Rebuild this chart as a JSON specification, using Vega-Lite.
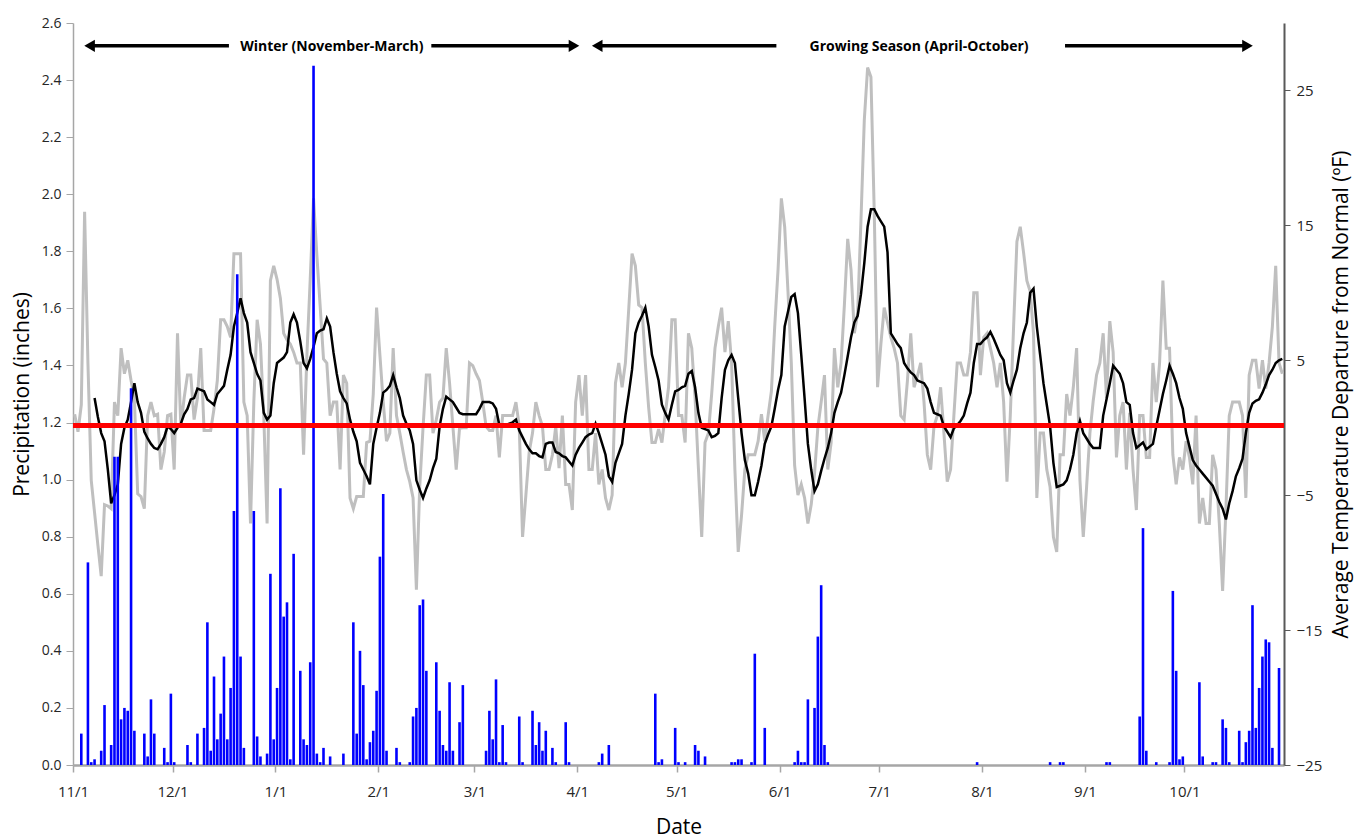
{
"$schema": "https://vega.github.io/schema/vega-lite/v6.json",
"width": 1211,
"height": 742,
"autosize": {"type": "none"},
"padding": {"left": 73, "top": 23, "right": 70, "bottom": 73},
"background": "white",
"config": {
  "view": {"stroke": null},
  "font": "Open Sans",
  "axis": {"titleFontWeight": "normal", "titleColor": "#000000", "labelColor": "#262626", "domainColor": "#A6A6A6", "tickColor": "#A6A6A6", "titleFontSize": 21},
  "axisBottom": {"labelFontSize": 15, "tickSize": 7, "domainWidth": 2.5, "tickWidth": 1.5, "labelPadding": 12, "titlePadding": 17, "grid": false, "labelFlush": false, "labelOverlap": false},
  "axisLeft": {"labelFontSize": 14, "tickSize": 7, "domainWidth": 1.5, "labelPadding": 5, "titlePadding": 9, "grid": true, "gridColor": "#D9D9D9", "gridWidth": 1.5},
  "axisRight": {"labelFontSize": 15, "tickSize": 6, "domainWidth": 2, "domainColor": "#595959", "tickColor": "#595959", "labelPadding": 6, "titlePadding": 9, "grid": false}
},
"datasets": {
"daily": [
{"date":"2011-11-01","temp":1.0},
{"date":"2011-11-02","temp":-0.3},
{"date":"2011-11-03","temp":1.7,"precip":0.11},
{"date":"2011-11-04","temp":16},
{"date":"2011-11-05","temp":4.8,"precip":0.71},
{"date":"2011-11-06","temp":-3.9,"precip":0.01},
{"date":"2011-11-07","temp":-6.3,"precip":0.02,"avg":2.2},
{"date":"2011-11-08","temp":-8.7,"avg":0.8},
{"date":"2011-11-09","temp":-11,"precip":0.05,"avg":-0.4},
{"date":"2011-11-10","temp":-5.7,"precip":0.21,"avg":-1},
{"date":"2011-11-11","temp":-5.8,"avg":-3.1},
{"date":"2011-11-12","temp":-6,"precip":0.07,"avg":-5.6},
{"date":"2011-11-13","temp":1.9,"precip":1.08,"avg":-5},
{"date":"2011-11-14","temp":0.9,"precip":1.08,"avg":-4.2},
{"date":"2011-11-15","temp":5.9,"precip":0.16,"avg":-1.2},
{"date":"2011-11-16","temp":4,"precip":0.2,"avg":0},
{"date":"2011-11-17","temp":5,"precip":0.19,"avg":0.6},
{"date":"2011-11-18","temp":3.5,"precip":1.32,"avg":1.9},
{"date":"2011-11-19","temp":2.2,"precip":0.12,"avg":3.3},
{"date":"2011-11-20","temp":-4.9,"avg":1.9},
{"date":"2011-11-21","temp":-5.1,"avg":1.1},
{"date":"2011-11-22","temp":-6,"precip":0.11,"avg":-0.3},
{"date":"2011-11-23","temp":0.9,"precip":0.03,"avg":-0.8},
{"date":"2011-11-24","temp":1.9,"precip":0.23,"avg":-1.2},
{"date":"2011-11-25","temp":0.9,"precip":0.11,"avg":-1.5},
{"date":"2011-11-26","temp":1,"avg":-1.6},
{"date":"2011-11-27","temp":-3.1,"avg":-1.2},
{"date":"2011-11-28","temp":-1.8,"precip":0.06,"avg":-0.7},
{"date":"2011-11-29","temp":0.9,"precip":0.01,"avg":0.1},
{"date":"2011-11-30","temp":1,"precip":0.25,"avg":-0.1},
{"date":"2011-12-01","temp":-3.1,"precip":0.01,"avg":-0.4},
{"date":"2011-12-02","temp":7,"avg":0},
{"date":"2011-12-03","temp":0.1,"avg":0.3},
{"date":"2011-12-04","temp":2.2,"avg":1},
{"date":"2011-12-05","temp":3.9,"precip":0.07,"avg":1.4},
{"date":"2011-12-06","temp":3.9,"precip":0.01,"avg":2.1},
{"date":"2011-12-07","temp":0.6,"avg":2.2},
{"date":"2011-12-08","temp":2.2,"precip":0.11,"avg":2.9},
{"date":"2011-12-09","temp":5.9,"avg":2.8},
{"date":"2011-12-10","temp":-0.2,"precip":0.13,"avg":2.7},
{"date":"2011-12-11","temp":-0.2,"precip":0.5,"avg":2.1},
{"date":"2011-12-12","temp":-0.2,"precip":0.05,"avg":1.9},
{"date":"2011-12-13","temp":1.4,"precip":0.31,"avg":1.7},
{"date":"2011-12-14","temp":3.5,"precip":0.09,"avg":2.5},
{"date":"2011-12-15","temp":8,"precip":0.18,"avg":2.8},
{"date":"2011-12-16","temp":8,"precip":0.38,"avg":3.1},
{"date":"2011-12-17","temp":7.5,"precip":0.09,"avg":4.3},
{"date":"2011-12-18","temp":6.7,"precip":0.27,"avg":5.4},
{"date":"2011-12-19","temp":12.9,"precip":0.89,"avg":7.5},
{"date":"2011-12-20","temp":12.9,"precip":1.72,"avg":8.5},
{"date":"2011-12-21","temp":12.9,"precip":0.38,"avg":9.6},
{"date":"2011-12-22","temp":1.9,"precip":0.06,"avg":8.5},
{"date":"2011-12-23","temp":0.9,"avg":7.8},
{"date":"2011-12-24","temp":-7.1,"avg":5.6},
{"date":"2011-12-25","temp":1.9,"precip":0.89,"avg":4.8},
{"date":"2011-12-26","temp":8,"precip":0.1,"avg":4},
{"date":"2011-12-27","temp":6.2,"precip":0.03,"avg":3.5},
{"date":"2011-12-28","temp":0.9,"avg":1.1},
{"date":"2011-12-29","temp":-7.1,"precip":0.04,"avg":0.6},
{"date":"2011-12-30","temp":10.9,"precip":0.67,"avg":0.9},
{"date":"2011-12-31","temp":12,"precip":0.09,"avg":3.3},
{"date":"2012-01-01","temp":11,"precip":0.27,"avg":4.8},
{"date":"2012-01-02","temp":9.6,"precip":0.97,"avg":5},
{"date":"2012-01-03","temp":7,"precip":0.52,"avg":5.2},
{"date":"2012-01-04","temp":6.5,"precip":0.57,"avg":5.6},
{"date":"2012-01-05","temp":6.2,"precip":0.02,"avg":7.8},
{"date":"2012-01-06","temp":5.6,"precip":0.74,"avg":8.4},
{"date":"2012-01-07","temp":4.8,"avg":7.8},
{"date":"2012-01-08","temp":4.8,"precip":0.33,"avg":6.4},
{"date":"2012-01-09","temp":-2,"precip":0.09,"avg":4.8},
{"date":"2012-01-10","temp":5.4,"precip":0.07,"avg":4.4},
{"date":"2012-01-11","temp":11,"precip":0.36,"avg":5.1},
{"date":"2012-01-12","temp":17,"precip":2.45,"avg":6},
{"date":"2012-01-13","temp":12.8,"precip":0.04,"avg":7},
{"date":"2012-01-14","temp":9,"precip":0.01,"avg":7.2},
{"date":"2012-01-15","temp":5.1,"precip":0.06,"avg":7.3},
{"date":"2012-01-16","temp":4.8,"avg":8.1},
{"date":"2012-01-17","temp":0.9,"precip":0.03,"avg":7.5},
{"date":"2012-01-18","temp":1.9,"avg":5.6},
{"date":"2012-01-19","temp":1.9,"avg":4},
{"date":"2012-01-20","temp":-3.1,"avg":2.7},
{"date":"2012-01-21","temp":3.9,"precip":0.04,"avg":2.2},
{"date":"2012-01-22","temp":3.3,"avg":1.8},
{"date":"2012-01-23","temp":-5.2,"avg":0.6},
{"date":"2012-01-24","temp":-6,"precip":0.5,"avg":-0.3},
{"date":"2012-01-25","temp":-5.1,"precip":0.11,"avg":-1},
{"date":"2012-01-26","temp":-5.1,"precip":0.4,"avg":-2.6},
{"date":"2012-01-27","temp":-5.1,"precip":0.28,"avg":-3.1},
{"date":"2012-01-28","temp":-1.1,"precip":0.02,"avg":-3.6},
{"date":"2012-01-29","temp":-1,"precip":0.08,"avg":-4.2},
{"date":"2012-01-30","temp":2.5,"precip":0.12,"avg":-1.2},
{"date":"2012-01-31","temp":8.9,"precip":0.26,"avg":0},
{"date":"2012-02-01","temp":5.4,"precip":0.73,"avg":1.1},
{"date":"2012-02-02","temp":1.9,"precip":0.95,"avg":2.6},
{"date":"2012-02-03","temp":-1,"precip":0.05,"avg":2.8},
{"date":"2012-02-04","temp":-0.4,"avg":3.1},
{"date":"2012-02-05","temp":5.9,"avg":3.9},
{"date":"2012-02-06","temp":0.9,"precip":0.06,"avg":3},
{"date":"2012-02-07","temp":-0.4,"precip":0.01,"avg":2.2},
{"date":"2012-02-08","temp":-1.8,"avg":0.9},
{"date":"2012-02-09","temp":-3.1,"avg":0.3},
{"date":"2012-02-10","temp":-4,"precip":0.01,"avg":-0.2},
{"date":"2012-02-11","temp":-5.2,"precip":0.17,"avg":-1.2},
{"date":"2012-02-12","temp":-12,"precip":0.2,"avg":-3.9},
{"date":"2012-02-13","temp":-4.4,"precip":0.56,"avg":-4.6},
{"date":"2012-02-14","temp":0,"precip":0.58,"avg":-5.2},
{"date":"2012-02-15","temp":3.9,"precip":0.33,"avg":-4.5},
{"date":"2012-02-16","temp":3.9,"avg":-3.9},
{"date":"2012-02-17","temp":-0.4,"avg":-3},
{"date":"2012-02-18","temp":0.6,"precip":0.36,"avg":-2.3},
{"date":"2012-02-19","temp":1.9,"precip":0.19,"avg":0.1},
{"date":"2012-02-20","temp":2.2,"precip":0.07,"avg":1.4},
{"date":"2012-02-21","temp":5.9,"precip":0.05,"avg":2.3},
{"date":"2012-02-22","temp":3.3,"precip":0.29,"avg":2.1},
{"date":"2012-02-23","temp":0.1,"precip":0.05,"avg":1.9},
{"date":"2012-02-24","temp":-3.1,"avg":1.5},
{"date":"2012-02-25","temp":-0.05,"precip":0.15,"avg":1.1},
{"date":"2012-02-26","temp":0,"precip":0.28,"avg":1},
{"date":"2012-02-27","temp":0,"avg":1},
{"date":"2012-02-28","temp":4.8,"avg":1},
{"date":"2012-02-29","temp":4.6,"avg":1},
{"date":"2012-03-01","temp":4,"avg":1},
{"date":"2012-03-02","temp":3.5,"avg":1.4},
{"date":"2012-03-03","temp":1.9,"avg":1.9},
{"date":"2012-03-04","temp":0.1,"precip":0.05,"avg":1.9},
{"date":"2012-03-05","temp":-0.2,"precip":0.19,"avg":1.9},
{"date":"2012-03-06","temp":-0.2,"precip":0.09,"avg":1.8},
{"date":"2012-03-07","temp":0.9,"precip":0.3,"avg":1.4},
{"date":"2012-03-08","temp":-2.2,"precip":0.01,"avg":0.2},
{"date":"2012-03-09","temp":0.9,"precip":0.14,"avg":0.2},
{"date":"2012-03-10","temp":0.9,"precip":0.01,"avg":0.2},
{"date":"2012-03-11","temp":0.9,"avg":0.3},
{"date":"2012-03-12","temp":0.9,"avg":0.4},
{"date":"2012-03-13","temp":1.9,"avg":0.6},
{"date":"2012-03-14","temp":0.1,"precip":0.17,"avg":-0.2},
{"date":"2012-03-15","temp":-8.1,"precip":0.01,"avg":-0.7},
{"date":"2012-03-16","temp":-5,"avg":-1.2},
{"date":"2012-03-17","temp":-1.8,"avg":-1.6},
{"date":"2012-03-18","temp":-0.4,"precip":0.19,"avg":-1.9},
{"date":"2012-03-19","temp":1.9,"precip":0.07,"avg":-1.9},
{"date":"2012-03-20","temp":0.9,"precip":0.15,"avg":-2.1},
{"date":"2012-03-21","temp":0.1,"precip":0.05,"avg":-2.2},
{"date":"2012-03-22","temp":-3.1,"precip":0.12,"avg":-1.2},
{"date":"2012-03-23","temp":-3.1,"avg":-1.1},
{"date":"2012-03-24","temp":-2,"precip":0.06,"avg":-1.1},
{"date":"2012-03-25","temp":0.1,"precip":0.01,"avg":-1.8},
{"date":"2012-03-26","temp":-3,"avg":-1.9},
{"date":"2012-03-27","temp":0.9,"avg":-2.1},
{"date":"2012-03-28","temp":-4.2,"precip":0.15,"avg":-2.2},
{"date":"2012-03-29","temp":-4.2,"precip":0.01,"avg":-2.5},
{"date":"2012-03-30","temp":-6.1,"avg":-2.8},
{"date":"2012-03-31","temp":1.9,"avg":-2},
{"date":"2012-04-01","temp":3.9,"avg":-1.5},
{"date":"2012-04-02","temp":0.9,"avg":-1.1},
{"date":"2012-04-03","temp":3.9,"avg":-0.7},
{"date":"2012-04-04","temp":-3.1,"avg":-0.5},
{"date":"2012-04-05","temp":-3.1,"avg":-0.4},
{"date":"2012-04-06","temp":-0.4,"avg":0.3},
{"date":"2012-04-07","temp":-4.2,"precip":0.01,"avg":-0.4},
{"date":"2012-04-08","temp":-3.1,"precip":0.04,"avg":-1.2},
{"date":"2012-04-09","temp":-5.2,"avg":-2},
{"date":"2012-04-10","temp":-6.1,"precip":0.07,"avg":-3.6},
{"date":"2012-04-11","temp":-5,"avg":-4},
{"date":"2012-04-12","temp":3.3,"avg":-2.6},
{"date":"2012-04-13","temp":4.8,"avg":-1.9},
{"date":"2012-04-14","temp":3,"avg":-1.2},
{"date":"2012-04-15","temp":4.8,"avg":0.9},
{"date":"2012-04-16","temp":8.8,"avg":2.5},
{"date":"2012-04-17","temp":12.9,"avg":4.3},
{"date":"2012-04-18","temp":12,"avg":7},
{"date":"2012-04-19","temp":9.1,"avg":7.8},
{"date":"2012-04-20","temp":8.9,"avg":8.3},
{"date":"2012-04-21","temp":4.8,"avg":8.9},
{"date":"2012-04-22","temp":1.5,"avg":7.5},
{"date":"2012-04-23","temp":-1.1,"avg":5.4},
{"date":"2012-04-24","temp":-1.1,"precip":0.25,"avg":4.5},
{"date":"2012-04-25","temp":-0.1,"precip":0.01,"avg":3.5},
{"date":"2012-04-26","temp":-1.1,"precip":0.02,"avg":1.7},
{"date":"2012-04-27","temp":1,"avg":1.1},
{"date":"2012-04-28","temp":3,"avg":0.6},
{"date":"2012-04-29","temp":8,"avg":1.7},
{"date":"2012-04-30","temp":8,"precip":0.13,"avg":2.7},
{"date":"2012-05-01","temp":0.9,"precip":0.01,"avg":2.8},
{"date":"2012-05-02","temp":0.9,"avg":3},
{"date":"2012-05-03","temp":-1.1,"precip":0.01,"avg":3.1},
{"date":"2012-05-04","temp":7,"avg":4},
{"date":"2012-05-05","temp":5.9,"avg":4.2},
{"date":"2012-05-06","temp":2.2,"precip":0.07,"avg":3},
{"date":"2012-05-07","temp":-3,"precip":0.05,"avg":1.1},
{"date":"2012-05-08","temp":-8.1,"avg":0},
{"date":"2012-05-09","temp":-1.1,"precip":0.03,"avg":-0.1},
{"date":"2012-05-10","temp":-0.4,"avg":-0.2},
{"date":"2012-05-11","temp":2.5,"avg":-0.7},
{"date":"2012-05-12","temp":5.9,"avg":-0.6},
{"date":"2012-05-13","temp":7.5,"avg":-0.4},
{"date":"2012-05-14","temp":8.9,"avg":2.2},
{"date":"2012-05-15","temp":5.6,"avg":4.3},
{"date":"2012-05-16","temp":7.9,"avg":5},
{"date":"2012-05-17","temp":4.8,"precip":0.01,"avg":5.4},
{"date":"2012-05-18","temp":-3.1,"precip":0.01,"avg":4.8},
{"date":"2012-05-19","temp":-9.2,"precip":0.02,"avg":2.2},
{"date":"2012-05-20","temp":-6.5,"precip":0.02,"avg":-0.4},
{"date":"2012-05-21","temp":-3.1,"avg":-2.4},
{"date":"2012-05-22","temp":-2,"avg":-3.4},
{"date":"2012-05-23","temp":-2,"precip":0.01,"avg":-5},
{"date":"2012-05-24","temp":-2,"precip":0.39,"avg":-5},
{"date":"2012-05-25","temp":-1,"avg":-4},
{"date":"2012-05-26","temp":1,"avg":-2.8},
{"date":"2012-05-27","temp":-1,"precip":0.13,"avg":-1.2},
{"date":"2012-05-28","temp":0.9,"avg":-0.5},
{"date":"2012-05-29","temp":2.7,"avg":0.1},
{"date":"2012-05-30","temp":7.5,"avg":1.4},
{"date":"2012-05-31","temp":11.7,"avg":2.8},
{"date":"2012-06-01","temp":17,"avg":3.9},
{"date":"2012-06-02","temp":14.9,"avg":7.5},
{"date":"2012-06-03","temp":10.1,"avg":8.6},
{"date":"2012-06-04","temp":4.8,"avg":9.7},
{"date":"2012-06-05","temp":-2.8,"precip":0.01,"avg":9.9},
{"date":"2012-06-06","temp":-5,"precip":0.05,"avg":8.5},
{"date":"2012-06-07","temp":-4.2,"precip":0.01,"avg":5.4},
{"date":"2012-06-08","temp":-5.2,"precip":0.01,"avg":2.2},
{"date":"2012-06-09","temp":-7.1,"precip":0.23,"avg":-1.2},
{"date":"2012-06-10","temp":-5.7,"avg":-3.1},
{"date":"2012-06-11","temp":-3.4,"precip":0.2,"avg":-4.7},
{"date":"2012-06-12","temp":0,"precip":0.45,"avg":-4.2},
{"date":"2012-06-13","temp":1.9,"precip":0.63,"avg":-3.2},
{"date":"2012-06-14","temp":3.9,"precip":0.07,"avg":-2.3},
{"date":"2012-06-15","temp":-3.1,"precip":0.01,"avg":-1.5},
{"date":"2012-06-16","temp":-1.1,"avg":-0.4},
{"date":"2012-06-17","temp":5.9,"avg":1.1},
{"date":"2012-06-18","temp":3,"avg":1.9},
{"date":"2012-06-19","temp":4.8,"avg":2.6},
{"date":"2012-06-20","temp":9.1,"avg":3.9},
{"date":"2012-06-21","temp":14,"avg":5.3},
{"date":"2012-06-22","temp":11.7,"avg":6.7},
{"date":"2012-06-23","temp":7,"avg":7.8},
{"date":"2012-06-24","temp":8.5,"avg":8.3},
{"date":"2012-06-25","temp":15.4,"avg":9.9},
{"date":"2012-06-26","temp":22.8,"avg":12.2},
{"date":"2012-06-27","temp":26.7,"avg":14.9},
{"date":"2012-06-28","temp":26,"avg":16.2},
{"date":"2012-06-29","temp":16,"avg":16.2},
{"date":"2012-06-30","temp":3,"avg":15.7},
{"date":"2012-07-01","temp":6.2,"avg":15.3},
{"date":"2012-07-02","temp":8.9,"avg":14.9},
{"date":"2012-07-03","temp":7.8,"avg":13},
{"date":"2012-07-04","temp":6.7,"avg":7},
{"date":"2012-07-05","temp":5.9,"avg":6.6},
{"date":"2012-07-06","temp":4.8,"avg":6.2},
{"date":"2012-07-07","temp":0.9,"avg":5.9},
{"date":"2012-07-08","temp":0.6,"avg":4.8},
{"date":"2012-07-09","temp":3.5,"avg":4.4},
{"date":"2012-07-10","temp":7,"avg":4.1},
{"date":"2012-07-11","temp":3,"avg":3.9},
{"date":"2012-07-12","temp":3.8,"avg":3.5},
{"date":"2012-07-13","temp":4.8,"avg":3.4},
{"date":"2012-07-14","temp":1.9,"avg":3.3},
{"date":"2012-07-15","temp":-2,"avg":2.9},
{"date":"2012-07-16","temp":-3.1,"avg":1.9},
{"date":"2012-07-17","temp":0.1,"avg":1.1},
{"date":"2012-07-18","temp":0.9,"avg":1},
{"date":"2012-07-19","temp":3,"avg":0.9},
{"date":"2012-07-20","temp":-0.4,"avg":0.1},
{"date":"2012-07-21","temp":-4,"avg":-0.3},
{"date":"2012-07-22","temp":-3.1,"avg":-0.7},
{"date":"2012-07-23","temp":0.9,"avg":-0.05},
{"date":"2012-07-24","temp":4.8,"avg":0.2},
{"date":"2012-07-25","temp":4.8,"avg":0.5},
{"date":"2012-07-26","temp":3.9,"avg":0.9},
{"date":"2012-07-27","temp":3.9,"avg":1.8},
{"date":"2012-07-28","temp":5.6,"avg":2.6},
{"date":"2012-07-29","temp":10,"avg":4.8},
{"date":"2012-07-30","temp":10,"precip":0.01,"avg":6.2},
{"date":"2012-07-31","temp":3.9,"avg":6.2},
{"date":"2012-08-01","temp":6.7,"avg":6.5},
{"date":"2012-08-02","temp":7,"avg":6.7},
{"date":"2012-08-03","temp":5.9,"avg":7.1},
{"date":"2012-08-04","temp":4.8,"avg":6.6},
{"date":"2012-08-05","temp":3,"avg":6},
{"date":"2012-08-06","temp":4.8,"avg":5.4},
{"date":"2012-08-07","temp":1.9,"avg":5},
{"date":"2012-08-08","temp":-4,"avg":3.3},
{"date":"2012-08-09","temp":0.9,"avg":2.6},
{"date":"2012-08-10","temp":7.5,"avg":3.5},
{"date":"2012-08-11","temp":13.8,"avg":4.3},
{"date":"2012-08-12","temp":14.9,"avg":5.9},
{"date":"2012-08-13","temp":13,"avg":7},
{"date":"2012-08-14","temp":10.9,"avg":7.8},
{"date":"2012-08-15","temp":10.1,"avg":10},
{"date":"2012-08-16","temp":7,"avg":10.3},
{"date":"2012-08-17","temp":-5.2,"avg":7.5},
{"date":"2012-08-18","temp":-0.4,"avg":5.4},
{"date":"2012-08-19","temp":-0.4,"avg":3.3},
{"date":"2012-08-20","temp":-3.1,"avg":1.7},
{"date":"2012-08-21","temp":-4.4,"precip":0.01,"avg":0.1},
{"date":"2012-08-22","temp":-8.1,"avg":-2.6},
{"date":"2012-08-23","temp":-9.2,"avg":-4.4},
{"date":"2012-08-24","temp":-2,"precip":0.01,"avg":-4.3},
{"date":"2012-08-25","temp":-2,"precip":0.01,"avg":-4.2},
{"date":"2012-08-26","temp":2.5,"avg":-3.9},
{"date":"2012-08-27","temp":0.9,"avg":-3.1},
{"date":"2012-08-28","temp":3,"avg":-2},
{"date":"2012-08-29","temp":5.9,"avg":-0.4},
{"date":"2012-08-30","temp":-3.9,"avg":0.5},
{"date":"2012-08-31","temp":-8.1,"avg":-0.4},
{"date":"2012-09-01","temp":-4.4,"avg":-0.8},
{"date":"2012-09-02","temp":-0.4,"avg":-1.2},
{"date":"2012-09-03","temp":2,"avg":-1.5},
{"date":"2012-09-04","temp":3.9,"avg":-1.5},
{"date":"2012-09-05","temp":4.8,"avg":-1.5},
{"date":"2012-09-06","temp":7,"avg":0.9},
{"date":"2012-09-07","temp":2.2,"precip":0.01,"avg":2.1},
{"date":"2012-09-08","temp":7.9,"precip":0.01,"avg":3.3},
{"date":"2012-09-09","temp":5.6,"avg":4.6},
{"date":"2012-09-10","temp":-2.2,"avg":4.3},
{"date":"2012-09-11","temp":0.9,"avg":4},
{"date":"2012-09-12","temp":1.9,"avg":3.3},
{"date":"2012-09-13","temp":-3.1,"avg":1.9},
{"date":"2012-09-14","temp":1.1,"avg":1.7},
{"date":"2012-09-15","temp":-3.1,"avg":-0.4},
{"date":"2012-09-16","temp":-6.1,"avg":-1.5},
{"date":"2012-09-17","temp":0.9,"precip":0.17,"avg":-1.3},
{"date":"2012-09-18","temp":0.9,"precip":0.83,"avg":-1.1},
{"date":"2012-09-19","temp":-2.2,"precip":0.05,"avg":-1.6},
{"date":"2012-09-20","temp":-2.2,"avg":-1.4},
{"date":"2012-09-21","temp":4.8,"avg":-1.2},
{"date":"2012-09-22","temp":1.9,"precip":0.01,"avg":0.1},
{"date":"2012-09-23","temp":4.8,"avg":1.3},
{"date":"2012-09-24","temp":10.9,"avg":2.5},
{"date":"2012-09-25","temp":5.9,"avg":3.5},
{"date":"2012-09-26","temp":5.9,"precip":0.01,"avg":4.6},
{"date":"2012-09-27","temp":-2,"precip":0.61,"avg":4},
{"date":"2012-09-28","temp":-4.2,"precip":0.33,"avg":3.3},
{"date":"2012-09-29","temp":-2.2,"precip":0.02,"avg":2.2},
{"date":"2012-09-30","temp":-3.1,"precip":0.03,"avg":1.4},
{"date":"2012-10-01","temp":-1,"avg":-0.4},
{"date":"2012-10-02","temp":-2.2,"avg":-1.4},
{"date":"2012-10-03","temp":-4.2,"avg":-2.4},
{"date":"2012-10-04","temp":0.9,"avg":-2.8},
{"date":"2012-10-05","temp":-7.1,"precip":0.29,"avg":-3.1},
{"date":"2012-10-06","temp":-5.2,"precip":0.03,"avg":-3.4},
{"date":"2012-10-07","temp":-7.1,"avg":-3.7},
{"date":"2012-10-08","temp":-7.1,"avg":-4},
{"date":"2012-10-09","temp":-2,"precip":0.01,"avg":-4.3},
{"date":"2012-10-10","temp":-3.1,"precip":0.01,"avg":-4.9},
{"date":"2012-10-11","temp":-7.1,"avg":-5.5},
{"date":"2012-10-12","temp":-12.1,"precip":0.16,"avg":-6},
{"date":"2012-10-13","temp":-6,"precip":0.13,"avg":-6.8},
{"date":"2012-10-14","temp":0.9,"precip":0.01,"avg":-5.6},
{"date":"2012-10-15","temp":1.9,"avg":-4.7},
{"date":"2012-10-16","temp":1.9,"avg":-3.6},
{"date":"2012-10-17","temp":1.9,"precip":0.12,"avg":-3},
{"date":"2012-10-18","temp":0.9,"precip":0.01,"avg":-2.3},
{"date":"2012-10-19","temp":-5.2,"precip":0.08,"avg":-0.4},
{"date":"2012-10-20","temp":3.9,"precip":0.12,"avg":1.1},
{"date":"2012-10-21","temp":5,"precip":0.56,"avg":1.8},
{"date":"2012-10-22","temp":5,"precip":0.13,"avg":2},
{"date":"2012-10-23","temp":2.9,"precip":0.27,"avg":2.1},
{"date":"2012-10-24","temp":5,"precip":0.38,"avg":2.6},
{"date":"2012-10-25","temp":2.9,"precip":0.44,"avg":3.2},
{"date":"2012-10-26","temp":4.8,"precip":0.43,"avg":3.9},
{"date":"2012-10-27","temp":7.5,"precip":0.06,"avg":4.3},
{"date":"2012-10-28","temp":12,"avg":4.8},
{"date":"2012-10-29","temp":4.8,"precip":0.34,"avg":5},
{"date":"2012-10-30","temp":4,"avg":5.1}
],
"arrows": [
{"date":"2011-11-06","date2":"2011-12-18","y":2.52},
{"date":"2012-02-17","date2":"2012-03-31","y":2.52},
{"date":"2012-04-07","date2":"2012-05-31","y":2.52},
{"date":"2012-08-26","date2":"2012-10-20","y":2.52}
],
"heads": [
{"date":"2011-11-06","y":2.52,"shape":"triangle-left"},
{"date":"2012-03-31","y":2.52,"shape":"triangle-right"},
{"date":"2012-04-07","y":2.52,"shape":"triangle-left"},
{"date":"2012-10-20","y":2.52,"shape":"triangle-right"}
],
"notes": [
{"date":"2012-01-18","y":2.515,"text":"Winter (November-March)"},
{"date":"2012-07-13","y":2.515,"text":"Growing Season (April-October)"}
]
},
"layer": [
{
  "layer": [
    {
      "data": {"name": "daily"},
      "mark": {"type": "line", "color": "#BFBFBF", "strokeWidth": 3, "interpolate": "linear"},
      "encoding": {
        "x": {"field": "date", "type": "temporal", "timeUnit": "utcyearmonthdate", "bandPosition": 0.5, "title": "Date", "scale": {"type": "utc", "domain": [{"year": 2011, "month": 11, "date": 1, "utc": true}, {"year": 2012, "month": 10, "date": 31, "utc": true}]}},
        "y": {"field": "temp", "type": "quantitative", "title": "Average Temperature  Departure from Normal (ºF)", "scale": {"domain": [-25, 30], "nice": false, "zero": false}, "axis": {"orient": "right", "values": [-25, -15, -5, 5, 15, 25], "titleAngle": 270, "titleBaseline": "top"}}
      }
    },
    {
      "data": {"name": "daily"},
      "mark": {"type": "line", "color": "#000000", "strokeWidth": 2.5},
      "encoding": {
        "x": {"field": "date", "type": "temporal", "timeUnit": "utcyearmonthdate", "bandPosition": 0.5, "title": "Date", "scale": {"type": "utc"}},
        "y": {"field": "avg", "type": "quantitative", "title": "Average Temperature  Departure from Normal (ºF)"}
      }
    }
  ]
},
{
  "layer": [
    {
      "data": {"name": "daily"},
      "mark": {"type": "bar", "color": "#0000FF", "width": 2.6},
      "encoding": {
        "x": {"field": "date", "type": "temporal", "timeUnit": "utcyearmonthdate", "bandPosition": 0.5, "title": "Date", "scale": {"type": "utc", "domain": [{"year": 2011, "month": 11, "date": 1, "utc": true}, {"year": 2012, "month": 10, "date": 31, "utc": true}]},
          "axis": {"format": "%-m/%-d", "values": [
            {"year": 2011, "month": 11, "date": 1, "utc": true},
            {"year": 2011, "month": 12, "date": 1, "utc": true},
            {"year": 2012, "month": 1, "date": 1, "utc": true},
            {"year": 2012, "month": 2, "date": 1, "utc": true},
            {"year": 2012, "month": 3, "date": 1, "utc": true},
            {"year": 2012, "month": 4, "date": 1, "utc": true},
            {"year": 2012, "month": 5, "date": 1, "utc": true},
            {"year": 2012, "month": 6, "date": 1, "utc": true},
            {"year": 2012, "month": 7, "date": 1, "utc": true},
            {"year": 2012, "month": 8, "date": 1, "utc": true},
            {"year": 2012, "month": 9, "date": 1, "utc": true},
            {"year": 2012, "month": 10, "date": 1, "utc": true}
          ]}},
        "y": {"field": "precip", "type": "quantitative", "title": "Precipitation (inches)", "scale": {"domain": [0, 2.6], "nice": false}, "axis": {"orient": "left", "values": [0, 0.2, 0.4, 0.6, 0.8, 1.0, 1.2, 1.4, 1.6, 1.8, 2.0, 2.2, 2.4, 2.6], "format": ".1f"}}
      }
    },
    {
      "data": {"name": "daily"},
      "mark": {"type": "rule", "color": "#FF0000", "strokeWidth": 3.5},
      "encoding": {"y": {"datum": 1.19, "type": "quantitative"}}
    },
    {
      "data": {"name": "arrows"},
      "mark": {"type": "rule", "color": "#000000", "strokeWidth": 3.5},
      "encoding": {
        "x": {"field": "date", "type": "temporal", "title": "Date", "scale": {"type": "utc"}},
        "x2": {"field": "date2"},
        "y": {"field": "y", "type": "quantitative", "title": "Precipitation (inches)"}
      }
    },
    {
      "data": {"name": "heads"},
      "mark": {"type": "point", "filled": true, "color": "#000000", "opacity": 1, "size": 150},
      "encoding": {
        "x": {"field": "date", "type": "temporal", "title": "Date", "scale": {"type": "utc"}},
        "y": {"field": "y", "type": "quantitative", "title": "Precipitation (inches)"},
        "shape": {"field": "shape", "type": "nominal", "scale": null, "legend": null}
      }
    },
    {
      "data": {"name": "notes"},
      "mark": {"type": "text", "fontWeight": "bold", "fontSize": 14, "font": "Open Sans", "color": "#000000", "baseline": "middle", "align": "center"},
      "encoding": {
        "x": {"field": "date", "type": "temporal", "title": "Date", "scale": {"type": "utc"}},
        "y": {"field": "y", "type": "quantitative", "title": "Precipitation (inches)"},
        "text": {"field": "text"}
      }
    }
  ]
}
],
"resolve": {"scale": {"y": "independent"}, "axis": {"y": "independent"}}
}
